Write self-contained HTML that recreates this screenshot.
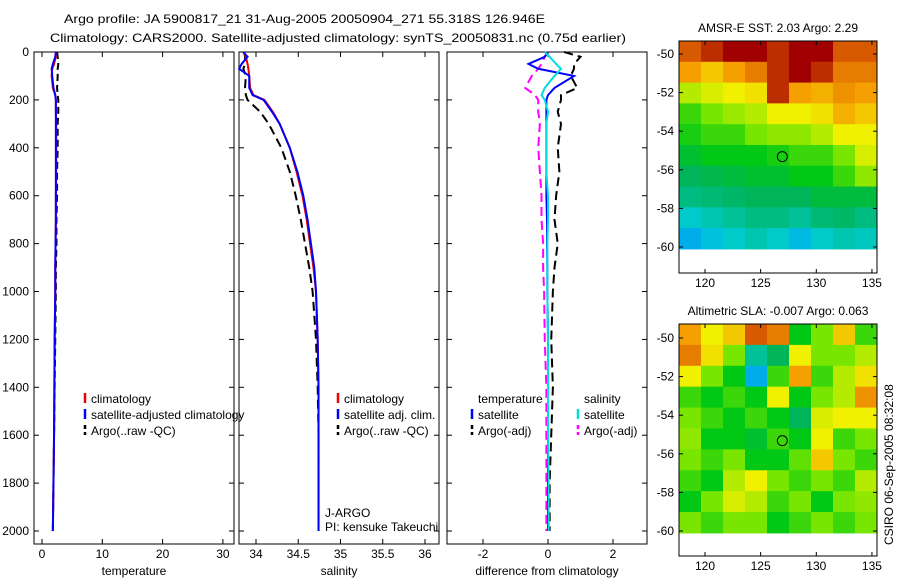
<!DOCTYPE html>
<html><head><meta charset="utf-8"><style>
body{margin:0;background:#fff;}
svg text{font-family:"Liberation Sans",sans-serif;font-size:12px;fill:#000;}
</style></head><body>
<svg id="fig" width="900" height="580" viewBox="0 0 900 580" xmlns="http://www.w3.org/2000/svg">
<text x="64" y="23" font-size="14" textLength="481" lengthAdjust="spacingAndGlyphs">Argo profile: JA 5900817_21 31-Aug-2005 20050904_271 55.318S 126.946E</text>
<text x="50" y="42" font-size="14" textLength="576" lengthAdjust="spacingAndGlyphs">Climatology: CARS2000. Satellite-adjusted climatology: synTS_20050831.nc (0.75d earlier)</text>
<g id="plots"></g>
<text transform="translate(893,545) rotate(-90)" font-size="12">CSIRO 06-Sep-2005 08:32:08</text>
</svg>
<script>
// ---- data ----
const depths=[0,20,50,70,100,150,180,200,250,300,400,500,600,700,800,900,1000,1200,1400,1600,1800,2000];
const tempClim=[2.3,2.3,2.0,1.7,1.6,1.8,2.2,2.3,2.3,2.35,2.35,2.35,2.3,2.3,2.25,2.2,2.2,2.1,2.05,2.0,1.9,1.8];
const tempSat=[2.3,2.2,1.8,1.6,1.7,1.9,2.2,2.3,2.3,2.3,2.3,2.3,2.3,2.3,2.25,2.2,2.2,2.1,2.05,2.0,1.9,1.8];
const tempArgo=[2.5,2.6,2.7,2.6,2.6,2.5,2.6,2.7,2.7,2.6,2.6,2.5,2.5,2.4,2.4,2.3,2.3,2.2,2.1,2.0,1.9,1.8];
const salClim=[33.85,33.88,33.9,33.91,33.92,33.93,33.97,34.1,34.2,34.28,34.4,34.48,34.55,34.6,34.64,34.68,34.71,34.73,34.74,34.74,34.74,34.74];
const salSat=[33.85,33.9,33.83,33.8,33.92,33.92,33.96,34.09,34.19,34.28,34.4,34.49,34.56,34.61,34.65,34.69,34.71,34.73,34.74,34.74,34.74,34.74];
const salArgo=[33.86,33.87,33.87,33.85,33.88,33.87,33.88,33.9,34.05,34.15,34.3,34.4,34.47,34.53,34.58,34.63,34.67,34.71,34.73,34.74,34.74,34.74];
const dTempSat=[0,-0.1,-0.6,-0.3,0.8,0.2,0,-0.05,-0.05,-0.05,-0.05,-0.05,-0.05,-0.03,-0.03,-0.02,-0.02,0,0,0,0,0];
const dSalSat=[-0.1,0.05,0.25,0.4,0.2,-0.1,-0.2,-0.1,0,-0.05,-0.05,-0.05,0,0,-0.02,-0.02,-0.02,0,0,0,0.02,0.02];
const dTempArgo=[0.5,1.0,0.8,0.8,0.7,0.9,0.4,0.4,0.3,0.4,0.3,0.35,0.25,0.2,0.3,0.2,0.15,0.1,0.15,0.1,0.05,0.05];
const dSalArgo=[0,-0.1,-0.2,-0.3,-0.5,-0.7,-0.4,-0.3,-0.3,-0.25,-0.3,-0.25,-0.2,-0.2,-0.15,-0.15,-0.12,-0.1,-0.05,-0.05,-0.05,-0.05];
const depthTicks=[0,200,400,600,800,1000,1200,1400,1600,1800,2000];
const tempTicks=[0,10,20,30];
const salTicks=[34,34.5,35,35.5,36];
const diffTicks=[-2,0,2];
const sstGrid=[
[0.9,0.95,1,1,0.95,1,1,0.9,0.9],
[0.8,0.75,0.8,0.85,0.95,1,0.95,0.85,0.85],
[0.65,0.68,0.7,0.72,0.95,0.8,0.78,0.82,0.8],
[0.55,0.6,0.63,0.65,0.7,0.7,0.72,0.78,0.75],
[0.52,0.55,0.55,0.6,0.62,0.62,0.65,0.7,0.7],
[0.48,0.5,0.5,0.5,0.52,0.55,0.55,0.6,0.68],
[0.45,0.46,0.47,0.48,0.48,0.5,0.5,0.55,0.62],
[0.42,0.43,0.44,0.45,0.45,0.45,0.47,0.47,0.47],
[0.36,0.38,0.4,0.42,0.42,0.4,0.43,0.44,0.42],
[0.3,0.33,0.36,0.38,0.36,0.32,0.36,0.38,0.37]];
const slaGrid=[
[0.8,0.7,0.75,0.9,0.85,0.5,0.6,0.75,0.55],
[0.85,0.72,0.6,0.4,0.45,0.7,0.6,0.6,0.65],
[0.7,0.6,0.5,0.3,0.55,0.8,0.55,0.65,0.72],
[0.55,0.5,0.55,0.5,0.7,0.5,0.6,0.65,0.82],
[0.6,0.55,0.5,0.55,0.5,0.45,0.68,0.7,0.7],
[0.62,0.5,0.5,0.48,0.55,0.5,0.7,0.55,0.6],
[0.6,0.55,0.6,0.5,0.5,0.58,0.75,0.6,0.55],
[0.55,0.5,0.65,0.7,0.6,0.55,0.6,0.55,0.65],
[0.5,0.6,0.68,0.65,0.55,0.6,0.5,0.6,0.62],
[0.6,0.55,0.6,0.6,0.5,0.55,0.6,0.55,0.6]];
const lonTicks=[120,125,130,135];
const latTicks=[-50,-52,-54,-56,-58,-60];
const floatLon=126.946, floatLat=-55.318;

const NS='http://www.w3.org/2000/svg';
const G=document.getElementById('plots');
function mk(t,a,p){const e=document.createElementNS(NS,t);for(const k in a)e.setAttribute(k,a[k]);(p||G).appendChild(e);return e;}
const yD=d=>52+d*0.2395;
function panel(x0,x1,name,xs,ticks,label,showY){
  const f=mk('rect',{x:x0,y:52,width:x1-x0,height:492,fill:'none',stroke:'#000'});
  
  
  ticks.forEach(t=>{const x=xs(t);
    mk('line',{x1:x,x2:x,y1:544,y2:539,stroke:'#000'});mk('line',{x1:x,x2:x,y1:52,y2:57,stroke:'#000'});
    const tx=mk('text',{x:x,y:558,'text-anchor':'middle'});tx.textContent=t;
    
    });
  depthTicks.forEach(d=>{const y=yD(d);
    mk('line',{x1:x0,x2:x0+5,y1:y,y2:y,stroke:'#000'});mk('line',{x1:x1,x2:x1-5,y1:y,y2:y,stroke:'#000'});
    if(showY){const tx=mk('text',{x:x0-5,y:y+4,'text-anchor':'end'});tx.textContent=d;
      
      }});
  const l=mk('text',{x:(x0+x1)/2,y:575,'text-anchor':'middle'});l.textContent=label;
  
  
}
function line(vals,xs,color,dash,name,w){
  const p=mk('polyline',{points:vals.map((v,i)=>xs(v)+','+yD(depths[i])).join(' '),fill:'none',stroke:color,'stroke-width':w||2,'stroke-dasharray':dash||'none'});
  
  
}
function legend(x,y,items,name){
  items.forEach((it,i)=>{
    if(it[1]) mk('line',{x1:x,x2:x,y1:y+i*16-10,y2:y+i*16,stroke:it[1],'stroke-width':2.5,'stroke-dasharray':it[2]||'none'});
    const t=mk('text',{x:x+6,y:y+i*16});t.textContent=it[0];
    
    });
}
// panel 1 temperature
const xT=t=>42+t*6.03;
panel(34,234,'temperature-panel',xT,tempTicks,'temperature',true);
line(tempArgo,xT,'#000','7,4','temp-argo-line');
line(tempClim,xT,'#e00',null,'temp-climatology-line');
line(tempSat,xT,'#00f',null,'temp-satellite-line');
legend(85,403,[['climatology','#e00'],['satellite-adjusted climatology','#00f'],['Argo(..raw -QC)','#000','4,3']],'temp-legend');
// panel 2 salinity
const xS=s=>256+(s-34)*84.5;
panel(239,439,'salinity-panel',xS,salTicks,'salinity',false);
line(salArgo,xS,'#000','9,5','sal-argo-line');
line(salClim,xS,'#e00',null,'sal-climatology-line');
line(salSat,xS,'#00f',null,'sal-satellite-line');
legend(338,403,[['climatology','#e00'],['satellite adj. clim.','#00f'],['Argo(..raw -QC)','#000','4,3']],'sal-legend');
const j1=mk('text',{x:325,y:517});j1.textContent='J-ARGO';


const j2=mk('text',{x:325,y:531});j2.textContent='PI: kensuke Takeuchi';


// panel 3 difference
const xDf=v=>548+v*32.5;
panel(447,647,'difference-panel',xDf,diffTicks,'difference from climatology',false);
line(dTempArgo,xDf,'#000','9,5','diff-temp-argo-line');
line(dSalArgo,xDf,'#f0f','9,5','diff-sal-argo-line');
line(dTempSat,xDf,'#00f',null,'diff-temp-satellite-line');
line(dSalSat,xDf,'#0dd',null,'diff-sal-satellite-line');
legend(472,403,[['temperature',null],['satellite','#00f'],['Argo(-adj)','#000','4,3']],'diff-temp-legend');
legend(578,403,[['salinity',null],['satellite','#0dd'],['Argo(-adj)','#f0f','4,3']],'diff-sal-legend');
// maps
const stops=[[0.25,[0,140,255]],[0.35,[0,205,215]],[0.45,[0,180,90]],[0.5,[0,200,20]],[0.6,[120,230,0]],[0.7,[240,240,0]],[0.8,[245,160,0]],[0.9,[215,90,0]],[1,[160,0,0]]];
function col(v){if(v<=stops[0][0])return 'rgb('+stops[0][1]+')';
  for(let i=1;i<stops.length;i++){if(v<=stops[i][0]){const a=stops[i-1],b=stops[i],f=(v-a[0])/(b[0]-a[0]);
    return 'rgb('+a[1].map((c,k)=>Math.round(c+(b[1][k]-c)*f)).join(',')+')';}}return 'rgb(160,0,0)';}
function map(top,lat50,grid,name,title){
  const x0=679,x1=877,bottom=top+232;
  const xL=l=>705+(l-120)*11.13, yL=l=>lat50+(-50-l)*19.3;
  const latTop=-50+(lat50-top)/19.3, latBot=-60.1;
  const rows=grid.length,cols=grid[0].length,lonL=(x0-705)/11.13+120,lonR=(x1-705)/11.13+120;
  grid.forEach((r,i)=>r.forEach((v,j)=>{
    const la0=latTop+(latBot-latTop)*i/rows,la1=latTop+(latBot-latTop)*(i+1)/rows;
    const lo0=lonL+(lonR-lonL)*j/cols,lo1=lonL+(lonR-lonL)*(j+1)/cols;
    const c=mk('rect',{x:xL(lo0),y:yL(la0),width:xL(lo1)-xL(lo0)+0.5,height:yL(la1)-yL(la0)+0.5,fill:col(v)});
    
    }));
  const f=mk('rect',{x:x0,y:top,width:x1-x0,height:bottom-top,fill:'none',stroke:'#000'});
  
  
  lonTicks.forEach(l=>{const x=xL(l);mk('line',{x1:x,x2:x,y1:bottom,y2:bottom-4,stroke:'#000'});mk('line',{x1:x,x2:x,y1:top,y2:top+4,stroke:'#000'});
    const t=mk('text',{x:x,y:bottom+14,'text-anchor':'middle'});t.textContent=l;
    
    });
  latTicks.forEach(l=>{const y=yL(l);mk('line',{x1:x0,x2:x0+4,y1:y,y2:y,stroke:'#000'});mk('line',{x1:x1,x2:x1-4,y1:y,y2:y,stroke:'#000'});
    const t=mk('text',{x:x0-5,y:y+4,'text-anchor':'end'});t.textContent=l;
    
    });
  const m=mk('circle',{cx:xL(floatLon),cy:yL(floatLat),r:5,fill:'none',stroke:'#000'});
  
  
  const t=mk('text',{x:(x0+x1)/2,y:top-9,'text-anchor':'middle'});t.textContent=title;
  
  
}
map(41,54,sstGrid,'sst-map','AMSR-E SST: 2.03 Argo: 2.29');
map(324,338,slaGrid,'sla-map','Altimetric SLA: -0.007 Argo: 0.063');
</script>
</body></html>
